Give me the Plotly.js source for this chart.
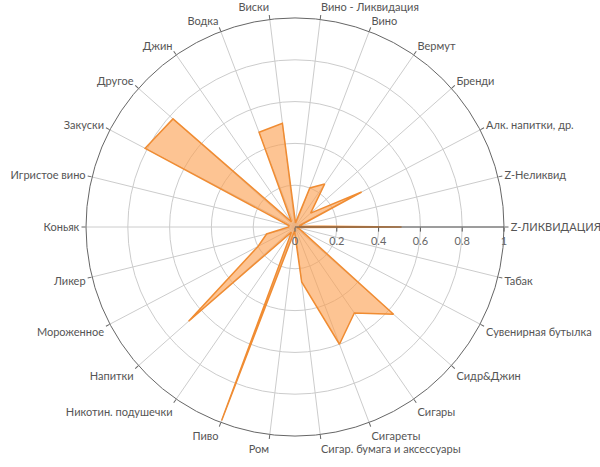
<!DOCTYPE html>
<html>
<head>
<meta charset="utf-8">
<script src="https://cdn.plot.ly/plotly-3.0.1.min.js"></script>
<style>
  html, body { margin: 0; padding: 0; background: #fff; }
  #chart { width: 600px; height: 467px; }
</style>
</head>
<body>
<div id="chart"></div>
<script>
const categories = [
  "Z-ЛИКВИДАЦИЯ", "Z-Неликвид", "Алк. напитки, др.", "Бренди", "Вермут", "Вино",
  "Вино - Ликвидация", "Виски", "Водка", "Джин", "Другое", "Закуски",
  "Игристое вино", "Коньяк", "Ликер", "Мороженное", "Напитки", "Никотин. подушечки",
  "Пиво", "Ром", "Сигар. бумага и аксессуары", "Сигареты", "Сигары", "Сидр&Джин",
  "Сувенирная бутылка", "Табак"
];
const values = [
  0.51, 0.02, 0.36, 0.10, 0.25, 0.20,
  0.02, 0.50, 0.485, 0.03, 0.78, 0.81,
  0.03, 0.03, 0.14, 0.20, 0.68, 0.03,
  0.99, 0.02, 0.265, 0.60, 0.50, 0.63,
  0.03, 0.01
];
const radialTicks = [0, 0.2, 0.4, 0.6, 0.8, 1];

// close the polygon
const theta = categories.concat([categories[0]]);
const r = values.concat([values[0]]);

Plotly.newPlot('chart', [{
  type: 'scatterpolar',
  r: r,
  theta: theta,
  mode: 'lines',
  fill: 'toself',
  fillcolor: 'rgba(252,160,80,0.62)',
  line: { color: '#f08c32', width: 1.5 },
  hoverinfo: 'skip'
}], {
  width: 600,
  height: 467,
  margin: { l: 86, r: 96, t: 18, b: 31 },
  paper_bgcolor: '#fff',
  showlegend: false,
  font: { family: 'Lato, Open Sans, sans-serif', size: 11, color: '#555' },
  polar: {
    bgcolor: '#fff',
    angularaxis: {
      type: 'category',
      categoryarray: categories,
      direction: 'counterclockwise',
      rotation: 0,
      showline: true,
      linecolor: '#666',
      linewidth: 1,
      gridcolor: '#ccc',
      ticks: 'outside',
      ticklen: 4,
      tickcolor: '#666',
      tickfont: { size: 11, color: '#555' }
    },
    radialaxis: {
      range: [0, 1],
      angle: 0,
      tickangle: 0,
      tickvals: radialTicks,
      ticktext: radialTicks.map(String),
      showline: true,
      linecolor: '#555',
      linewidth: 1.2,
      gridcolor: '#ccc',
      ticks: 'outside',
      ticklen: 4,
      tickcolor: '#555',
      tickfont: { size: 11, color: '#666' }
    }
  }
}, { displayModeBar: false, staticPlot: true });
</script>
</body>
</html>
